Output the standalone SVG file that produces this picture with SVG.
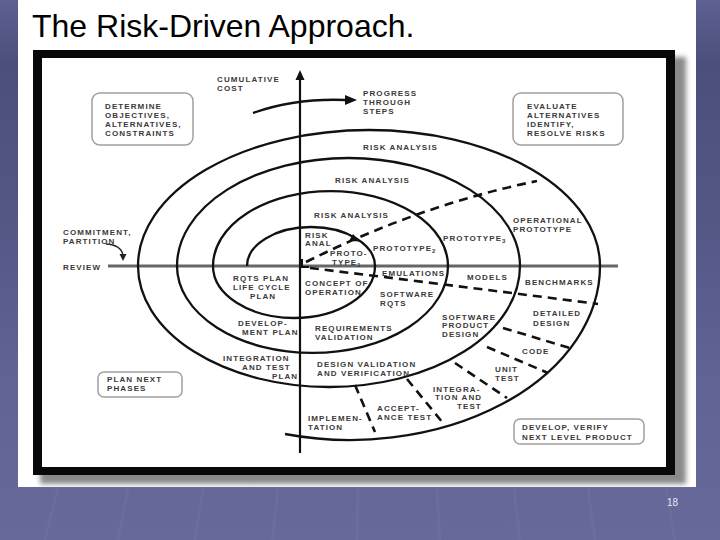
<svg xmlns="http://www.w3.org/2000/svg" width="720" height="540" viewBox="0 0 720 540">
<defs>
<linearGradient id="bg" x1="0" y1="0" x2="0" y2="1">
<stop offset="0" stop-color="#5e6092"/>
<stop offset="0.12" stop-color="#4c4e7c"/>
<stop offset="0.4" stop-color="#545686"/>
<stop offset="0.7" stop-color="#606394"/>
<stop offset="1" stop-color="#67699a"/>
</linearGradient>
<filter id="blur" x="-5%" y="-5%" width="110%" height="110%"><feGaussianBlur stdDeviation="2.5"/></filter>
<style>
.t{font-family:"Liberation Sans",Arial,sans-serif;font-weight:bold;font-size:8px;letter-spacing:1.1px;fill:#3a3a3a}
.box{fill:#fff;stroke:#a0a0a0;stroke-width:1.5}
.sp{fill:none;stroke:#111;stroke-width:2.3}
.ds{fill:none;stroke:#111;stroke-width:2.6;stroke-dasharray:9 6}
.bgl{stroke:#ffffff;stroke-opacity:0.035;stroke-width:3}
</style>
</defs>
<rect width="720" height="540" fill="url(#bg)"/>
<g id="bg-lines">
<line class="bgl" x1="45" y1="540" x2="58" y2="488"/>
<line class="bgl" x1="118" y1="540" x2="128" y2="488"/>
<line class="bgl" x1="195" y1="540" x2="203" y2="488"/>
<line class="bgl" x1="272" y1="540" x2="278" y2="488"/>
<line class="bgl" x1="357" y1="540" x2="358" y2="488"/>
<line class="bgl" x1="440" y1="540" x2="437" y2="488"/>
<line class="bgl" x1="520" y1="540" x2="514" y2="488"/>
<line class="bgl" x1="595" y1="540" x2="588" y2="488"/>
<line class="bgl" x1="675" y1="540" x2="666" y2="488"/>
</g>
<rect x="18" y="0" width="678" height="487" fill="#ffffff"/>
<text x="32" y="37" font-family="'Liberation Sans',Arial,sans-serif" font-size="32" fill="#000">The Risk-Driven Approach.</text>
<text x="667" y="506" font-family="'Liberation Sans',Arial,sans-serif" font-size="10" fill="#e6e6f2">18</text>
<g id="frame">
<rect x="40" y="57" width="646" height="427" fill="#8a8a8a" filter="url(#blur)"/>
<rect x="33" y="50" width="642" height="425" fill="#080808"/>
<rect x="42" y="58" width="624" height="409" fill="#ffffff"/>
</g>
<g id="connectors">
<line x1="108" y1="266" x2="618" y2="266" stroke="#666" stroke-width="3"/>
<line x1="300" y1="78" x2="300" y2="453" stroke="#111" stroke-width="2.2"/>
<polygon points="300,70 295.5,80 304.5,80" fill="#111"/>
<path class="sp" d="M253,113 Q295,98 346,100"/>
<polygon points="357,100 345,95 345,105" fill="#111"/>
<path d="M106,244 Q121,245 123,255" fill="none" stroke="#222" stroke-width="1.3"/>
<polygon points="123,261 119.5,254 126.5,254" fill="#222"/>
<path class="sp" d="M247,266 A64,39 0 0,1 375,266"/>
<path class="sp" d="M213,266 A117.5,75 0 0,1 448,266"/>
<path class="sp" d="M177,266 A171.5,108 0 0,1 520,266"/>
<path class="sp" d="M138,266 A231,136 0 0,1 600,266"/>
<path class="sp" d="M375,266 A81,52 0 0,1 213,266"/>
<path class="sp" d="M448,266 A135.5,87 0 0,1 177,266"/>
<path class="sp" d="M520,266 A191,121 0 0,1 138,266"/>
<path class="sp" d="M600,266 A250,174 0 0,1 285,434"/>
<polygon points="360,241.5 349,241 353,234" fill="#111"/>
<path class="ds" d="M306,262 Q420,205 537,181"/>
<path d="M302,259 L302,267 L309,267" fill="none" stroke="#111" stroke-width="2"/>
<path class="ds" d="M310,268 Q450,285 598,304"/>
<path class="ds" d="M503,328 L570,348"/>
<path class="ds" d="M487,347 L548,373"/>
<path class="ds" d="M455,363 L507,398"/>
<path class="ds" d="M407,379 L443,423"/>
<path class="ds" d="M355,385 L375,432"/>
</g>
<g id="node-determine">
<rect class="box" x="92" y="93" width="101" height="52" rx="8"/>
<text class="t" x="105" y="109">DETERMINE</text>
<text class="t" x="105" y="118">OBJECTIVES,</text>
<text class="t" x="105" y="127">ALTERNATIVES,</text>
<text class="t" x="105" y="136">CONSTRAINTS</text>
</g>
<g id="node-evaluate">
<rect class="box" x="513" y="93" width="110" height="52" rx="8"/>
<text class="t" x="527" y="109">EVALUATE</text>
<text class="t" x="527" y="118">ALTERNATIVES</text>
<text class="t" x="527" y="127">IDENTIFY,</text>
<text class="t" x="527" y="136">RESOLVE RISKS</text>
</g>
<g id="node-plan-next">
<rect class="box" x="98" y="372" width="84" height="25" rx="6"/>
<text class="t" x="107" y="382">PLAN NEXT</text>
<text class="t" x="107" y="391">PHASES</text>
</g>
<g id="node-develop">
<rect class="box" x="514" y="419" width="130" height="25" rx="6"/>
<text class="t" x="522" y="430">DEVELOP, VERIFY</text>
<text class="t" x="522" y="440">NEXT LEVEL PRODUCT</text>
</g>
<g id="axis-labels">
<text class="t" x="217" y="82">CUMULATIVE</text>
<text class="t" x="217" y="91">COST</text>
<text class="t" x="363" y="96">PROGRESS</text>
<text class="t" x="363" y="105">THROUGH</text>
<text class="t" x="363" y="114">STEPS</text>
<text class="t" x="63" y="235">COMMITMENT,</text>
<text class="t" x="63" y="244">PARTITION</text>
<text class="t" x="63" y="270">REVIEW</text>
</g>
<g id="risk-labels">
<text class="t" x="363" y="150">RISK ANALYSIS</text>
<text class="t" x="335" y="183">RISK ANALYSIS</text>
<text class="t" x="314" y="218">RISK ANALYSIS</text>
<text class="t" x="305" y="238">RISK</text>
<text class="t" x="305" y="246">ANAL</text>
<text class="t" x="330" y="256">PROTO-</text>
<text class="t" x="332" y="265">TYPE<tspan font-size="6" dy="1.5">1</tspan></text>
<text class="t" x="373" y="251">PROTOTYPE<tspan font-size="6" dy="1.5">2</tspan></text>
<text class="t" x="443" y="241">PROTOTYPE<tspan font-size="6" dy="1.5">3</tspan></text>
<text class="t" x="513" y="223">OPERATIONAL</text>
<text class="t" x="513" y="232">PROTOTYPE</text>
</g>
<g id="plan-labels">
<text class="t" x="233" y="281">RQTS PLAN</text>
<text class="t" x="233" y="290">LIFE CYCLE</text>
<text class="t" x="250" y="299">PLAN</text>
<text class="t" x="238" y="326">DEVELOP-</text>
<text class="t" x="242" y="335">MENT PLAN</text>
<text class="t" x="223" y="361">INTEGRATION</text>
<text class="t" x="242" y="370">AND TEST</text>
<text class="t" x="272" y="379">PLAN</text>
</g>
<g id="develop-labels">
<text class="t" x="305" y="286">CONCEPT OF</text>
<text class="t" x="305" y="295">OPERATION</text>
<text class="t" x="382" y="276">EMULATIONS</text>
<text class="t" x="467" y="280">MODELS</text>
<text class="t" x="525" y="285">BENCHMARKS</text>
<text class="t" x="380" y="297">SOFTWARE</text>
<text class="t" x="380" y="306">RQTS</text>
<text class="t" x="315" y="331">REQUIREMENTS</text>
<text class="t" x="315" y="340">VALIDATION</text>
<text class="t" x="442" y="320">SOFTWARE</text>
<text class="t" x="442" y="328">PRODUCT</text>
<text class="t" x="442" y="337">DESIGN</text>
<text class="t" x="533" y="316">DETAILED</text>
<text class="t" x="533" y="326">DESIGN</text>
<text class="t" x="522" y="354">CODE</text>
<text class="t" x="317" y="367">DESIGN VALIDATION</text>
<text class="t" x="317" y="376">AND VERIFICATION</text>
<text class="t" x="495" y="372">UNIT</text>
<text class="t" x="495" y="381">TEST</text>
<text class="t" x="433" y="392">INTEGRA-</text>
<text class="t" x="435" y="400">TION AND</text>
<text class="t" x="457" y="409">TEST</text>
<text class="t" x="377" y="411">ACCEPT-</text>
<text class="t" x="377" y="420">ANCE TEST</text>
<text class="t" x="308" y="421">IMPLEMEN-</text>
<text class="t" x="308" y="430">TATION</text>
</g>
</svg>
